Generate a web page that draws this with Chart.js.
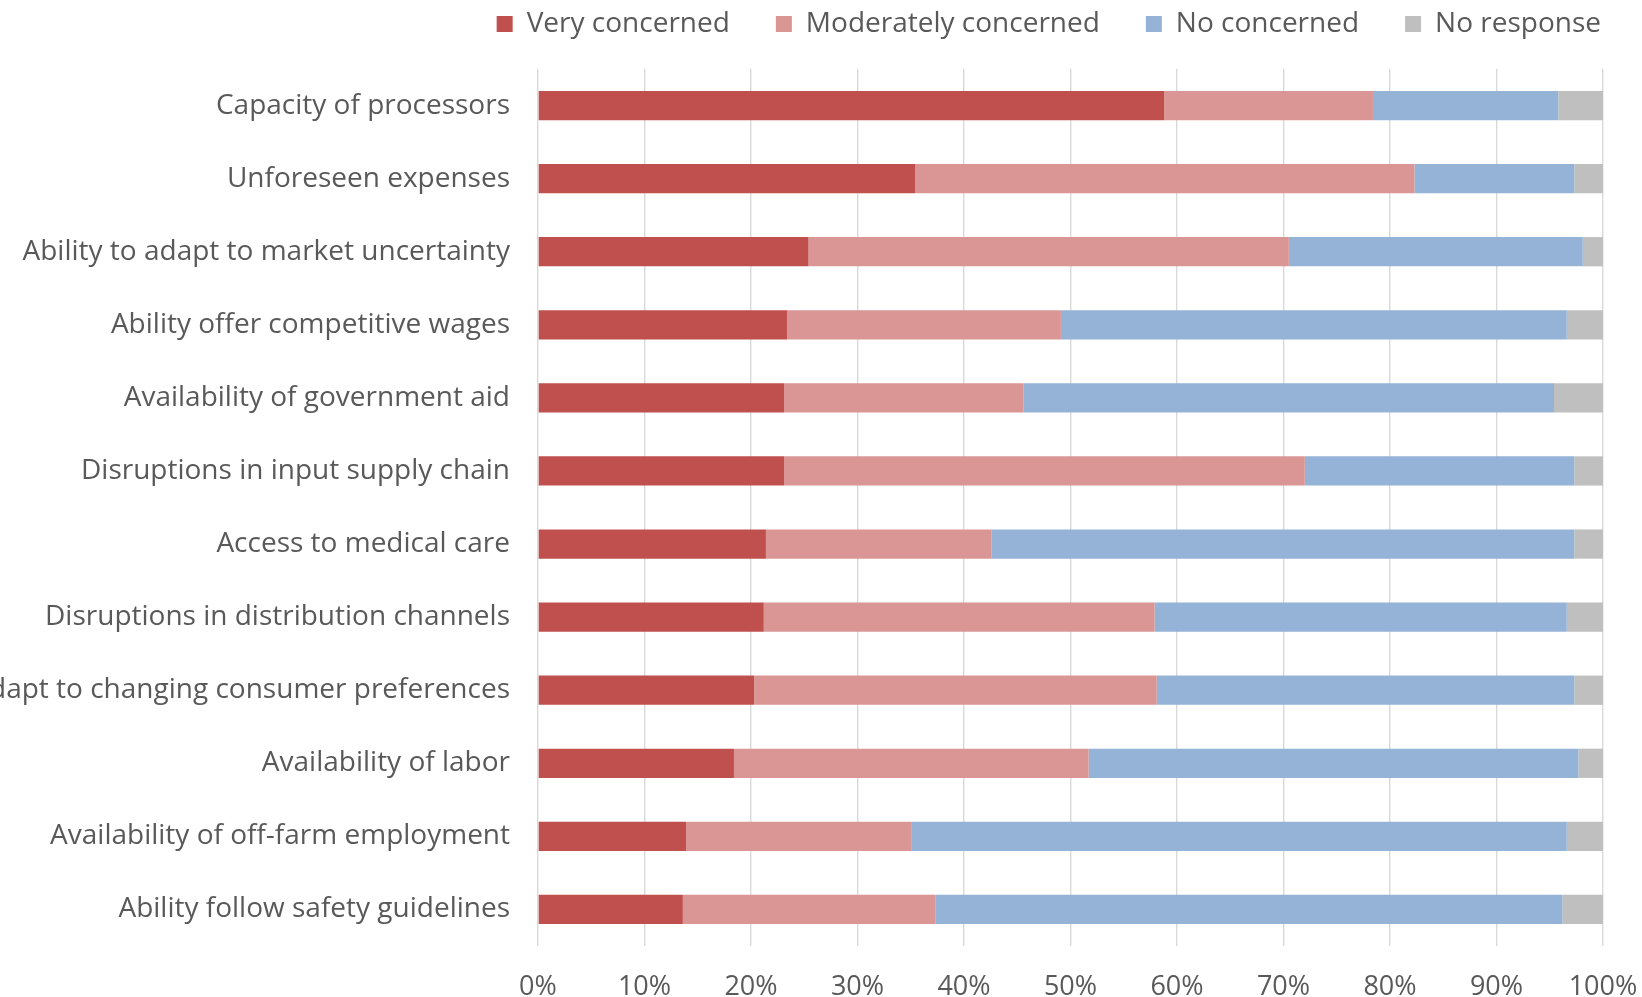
<!DOCTYPE html>
<html>
<head>
<meta charset="utf-8">
<script src="https://cdn.jsdelivr.net/npm/chart.js@4"></script>
<style>
  body { margin: 0; background: #fff; }
  #wrap { width: 1642px; height: 997px; }
</style>
</head>
<body>
<div id="wrap"><canvas id="concernChart"></canvas></div>
<script>
const concerns = [
    "Capacity of processors",
    "Unforeseen expenses",
    "Ability to adapt to market uncertainty",
    "Ability offer competitive wages",
    "Availability of government aid",
    "Disruptions in input supply chain",
    "Access to medical care",
    "Disruptions in distribution channels",
    "Ability to adapt to changing consumer preferences",
    "Availability of labor",
    "Availability of off-farm employment",
    "Ability follow safety guidelines"
];

// shares of respondents, percent
const veryConcerned = [58.8, 35.4, 25.4, 23.4, 23.1, 23.1, 21.4, 21.2, 20.3, 18.4, 13.9, 13.6];
const moderatelyConcerned = [19.6, 46.9, 45.1, 25.7, 22.5, 48.9, 21.2, 36.7, 37.8, 33.3, 21.2, 23.7];
const noConcerned = [17.4, 15.0, 27.6, 47.5, 49.8, 25.3, 54.7, 38.7, 39.2, 46.0, 61.5, 58.9];
const noResponse = [4.2, 2.7, 1.9, 3.4, 4.6, 2.7, 2.7, 3.4, 2.7, 2.3, 3.4, 3.8];

const fontFamily = "'Open Sans', 'Liberation Sans', sans-serif";
const textColor = '#595959';

function series(label, data, color) {
    return {
        label: label,
        data: data,
        backgroundColor: color,
        borderWidth: 0,
        barPercentage: 0.4,
        categoryPercentage: 1.0
    };
}

// more room under the legend, and slide its row flush right
const legendGap = {
    id: 'legendGap',
    beforeLayout(chart) {
        const legend = chart.legend;
        if (!legend || legend._gapPatched) return;
        const fit = legend.fit;
        legend.fit = function () {
            fit.call(this);
            this.height += 21;
            // tiny slack so the last item never wraps
            this.lineWidths = this.lineWidths.map(w => w + 0.5);
        };
        legend._gapPatched = true;
    },
    afterLayout(chart) {
        const legend = chart.legend;
        if (!legend) return;
        legend.left += 44.5;
        legend.right += 44.5;
    }
};

new Chart(document.getElementById('concernChart'), {
    type: 'bar',
    data: {
        labels: concerns,
        datasets: [
            series('Very concerned', veryConcerned, '#C0504D'),
            series('Moderately concerned', moderatelyConcerned, '#D99694'),
            series('No concerned', noConcerned, '#95B3D7'),
            series('No response', noResponse, '#BFBFBF')
        ]
    },
    plugins: [legendGap],
    options: {
        indexAxis: 'y',
        responsive: true,
        maintainAspectRatio: false,
        animation: false,
        layout: { padding: { left: 0, right: 39, top: -36, bottom: 0 } },
        plugins: {
            tooltip: { enabled: false },
            legend: {
                position: 'top',
                align: 'end',
                labels: {
                    color: textColor,
                    font: { family: fontFamily, size: 28 },
                    boxWidth: 16,
                    boxHeight: 16,
                    padding: 46
                }
            }
        },
        scales: {
            x: {
                stacked: true,
                min: 0,
                max: 100,
                grid: { color: '#D9D9D9', lineWidth: 1.4, drawTicks: false },
                border: { display: false },
                ticks: {
                    stepSize: 10,
                    padding: 25,
                    color: textColor,
                    font: { family: fontFamily, size: 27 },
                    callback: v => v + '%'
                },
                afterFit: scale => {
                    scale.height = 51;
                    scale.paddingLeft = 0;
                    scale.paddingRight = 0;
                }
            },
            y: {
                stacked: true,
                grid: { display: false, drawTicks: false },
                border: { display: false },
                ticks: {
                    padding: 28,
                    color: textColor,
                    font: { family: fontFamily, size: 28 },
                    autoSkip: false
                },
                afterFit: scale => { scale.width = 538; }
            }
        }
    }
});
</script>
</body>
</html>
